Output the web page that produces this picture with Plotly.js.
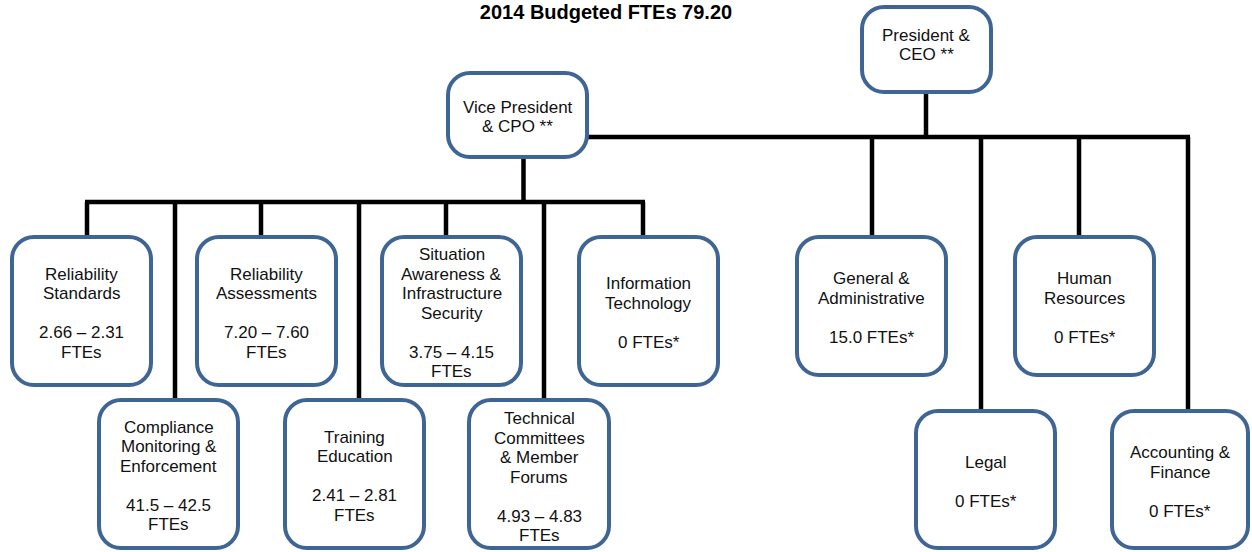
<!DOCTYPE html>
<html>
<head>
<meta charset="utf-8">
<script src="https://cdn.plot.ly/plotly-3.0.1.min.js"></script>
<style>html,body{margin:0;padding:0;background:#fff;}#chart{width:1252px;height:552px;}</style>
</head>
<body>
<div id="chart"></div>
<script>
// ---- DATA ----
const chartTitle = "2014 Budgeted FTEs 79.20";
const unitLines = [
  ["President &", "CEO **"],
  ["Vice President", "& CPO **"],
  ["Reliability", "Standards"],
  ["Compliance", "Monitoring &", "Enforcement"],
  ["Reliability", "Assessments"],
  ["Training", "Education"],
  ["Situation", "Awareness &", "Infrastructure", "Security"],
  ["Technical", "Committees", "& Member", "Forums"],
  ["Information", "Technology"],
  ["General &", "Administrative"],
  ["Legal"],
  ["Human", "Resources"],
  ["Accounting &", "Finance"]
];
const fteLow  = [null, null, "2.66", "41.5", "7.20", "2.41", "3.75", "4.93", "0", "15.0", "0", "0", "0"];
const fteHigh = [null, null, "2.31", "42.5", "7.60", "2.81", "4.15", "4.83", null, null, null, null, null];
const parentIndex = [null, 0, 1, 1, 1, 1, 1, 1, 1, 0, 0, 0, 0];

// ---- LAYOUT GEOMETRY (pixel-like axis units) ----
const boxX0 = [862, 448, 12, 99, 197, 285, 382, 469, 579, 797, 916, 1015, 1112];
const boxX1 = [991, 587, 151, 238, 336, 424, 521, 609, 718, 946, 1055, 1154, 1248];
const boxY0 = [7, 73, 237, 400, 237, 400, 237, 400, 237, 237, 411, 237, 411];
const boxY1 = [92, 157, 385, 548, 385, 548, 385, 548, 385, 375, 548, 375, 548];
const textCY = [44, 116, 312, 475, 312, 475, 312, 476, 312, 307, 481, 307, 481];
const dropX = [null, 589, 87, 175, 261, 359, 446, 544, 643, 872, 981, 1079, 1188];
const stemX = {0: 926, 1: 523.5};
const barY = {0: 137, 1: 202};
const LINE_PITCH = 19.5;

const annotations = [];
const shapes = [];

function roundRect(x0, y0, x1, y1, r) {
  const k = r * 0.4477; // distance from corner to cubic control points (circle approx)
  return `M ${x0 + r},${y0} L ${x1 - r},${y0} C ${x1 - k},${y0} ${x1},${y0 + k} ${x1},${y0 + r} ` +
         `L ${x1},${y1 - r} C ${x1},${y1 - k} ${x1 - k},${y1} ${x1 - r},${y1} L ${x0 + r},${y1} ` +
         `C ${x0 + k},${y1} ${x0},${y1 - k} ${x0},${y1 - r} L ${x0},${y0 + r} ` +
         `C ${x0},${y0 + k} ${x0 + k},${y0} ${x0 + r},${y0} Z`;
}

// connectors
const lx = [], ly = [];
Object.keys(stemX).forEach(pk => {
  const p = +pk;
  const kids = parentIndex.map((q, i) => q === p ? i : -1).filter(i => i >= 0);
  lx.push(stemX[p], stemX[p], null);
  ly.push(boxY1[p] + 2, barY[p], null);
  const xs = kids.map(k => dropX[k]).concat([stemX[p]]);
  const minX = Math.min(...xs), maxX = Math.max(...xs);
  lx.push(minX - 2, maxX + 2, null);
  ly.push(barY[p], barY[p], null);
  kids.forEach(k => {
    if (boxY0[k] > barY[p]) {
      lx.push(dropX[k], dropX[k], null);
      ly.push(barY[p], boxY0[k], null);
    }
  });
});

const traces = [{
  x: lx, y: ly, type: 'scatter', mode: 'lines',
  line: {color: '#000000', width: 4.5}, hoverinfo: 'skip', showlegend: false
}];

unitLines.forEach((lines, i) => {
  shapes.push({
    type: 'path', xref: 'x', yref: 'y', layer: 'above',
    path: roundRect(boxX0[i], boxY0[i], boxX1[i], boxY1[i], 22),
    fillcolor: '#ffffff', line: {color: '#3F6594', width: 4}
  });
  let all = lines.slice();
  if (fteLow[i] !== null) {
    all.push("");
    if (fteHigh[i] !== null) {
      all.push(fteLow[i] + " \u2013 " + fteHigh[i]);
      all.push("FTEs");
    } else {
      all.push(fteLow[i] + " FTEs*");
    }
  }
  const n = all.length;
  const cx = (boxX0[i] + boxX1[i]) / 2;
  all.forEach((t, j) => {
    if (t === "") return;
    annotations.push({
      x: cx, y: textCY[i] + (j - (n - 1) / 2) * LINE_PITCH + 1,
      xref: 'x', yref: 'y', text: t.replace(/&/g, '&amp;'),
      showarrow: false, xanchor: 'center', yanchor: 'middle',
      font: {family: 'Arial, "Liberation Sans", sans-serif', size: 17, color: '#111111'}
    });
  });
});

const layout = {
  width: 1252, height: 552,
  margin: {l: 0, r: 0, t: 0, b: 0},
  paper_bgcolor: '#ffffff', plot_bgcolor: '#ffffff',
  title: {
    text: '<b>' + chartTitle + '</b>',
    x: 606 / 1252, xanchor: 'center', xref: 'paper',
    y: 1 - 12 / 552, yanchor: 'middle', yref: 'paper',
    font: {family: 'Arial, "Liberation Sans", sans-serif', size: 20, color: '#000000'}
  },
  xaxis: {range: [0, 1252], visible: false, fixedrange: true},
  yaxis: {range: [552, 0], visible: false, fixedrange: true},
  showlegend: false,
  shapes: shapes,
  annotations: annotations
};

Plotly.newPlot('chart', traces, layout, {displayModeBar: false, staticPlot: true});
</script>
</body>
</html>
